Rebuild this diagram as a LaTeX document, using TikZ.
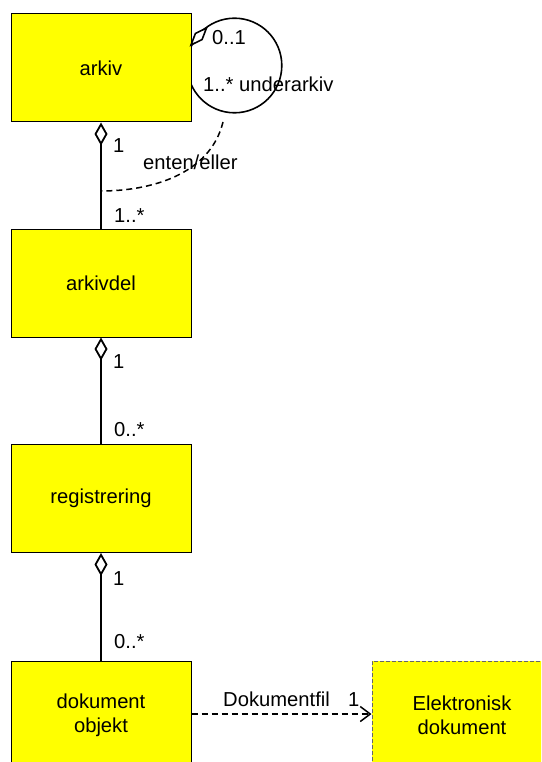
\documentclass[tikz,border=0pt]{standalone}
\usepackage{fontspec}
\setmainfont{Liberation Sans}
\usetikzlibrary{arrows.meta,calc}
\definecolor{boxyellow}{HTML}{FFFF00}
\begin{document}
\begin{tikzpicture}[x=1pt,y=-1pt,
  every node/.style={font=\fontsize{20.2}{24}\selectfont},
  classbox/.style={draw=black, line width=1pt, fill=boxyellow, minimum width=180pt, minimum height=108pt, inner sep=0pt, align=center},
  extbox/.style={classbox, draw=gray!80!black, dash pattern=on 4pt off 2pt},
  assoc/.style={line width=1.8pt},
  agg/.style={assoc, {Diamond[open,length=23pt,width=13pt]}-},
  lbl/.style={anchor=base west, inner sep=0pt},
  dep/.style={line width=1.5pt, dash pattern=on 6pt off 4pt, -{Straight Barb[length=10pt,width=15pt]}}
]
\useasboundingbox (0,0) rectangle (541,762);
\clip (0,0) rectangle (541,762);

% self-association loop
\node[circle, draw, line width=1.6pt, minimum size=94.6pt, inner sep=0pt] (loop) at (234.5,65.5) {};

% classes
\node[classbox] (arkiv) at (101,68) {arkiv};
\node[classbox] (arkivdel) at (101,283) {arkivdel};
\node[classbox] (registrering) at (101,498.5) {registrering};
\node[classbox] (dokobj) at (101,715) {dokument\\objekt};
\node[extbox] (elek) at (462,715) {Elektronisk\\dokument};

% self-aggregation diamond
\coordinate (selfA) at (191,45);
\coordinate (selfB) at (206.5,28);
\coordinate (selfC) at (202.1,39.5);
\coordinate (selfD) at (195.4,33.5);
\draw[line width=1.6pt, line join=miter, fill=white] (selfA) -- (selfC) -- (selfB) -- (selfD) -- cycle;

% aggregations
\draw[agg] (arkiv.south) -- (arkivdel.north);
\draw[agg] (arkivdel.south) -- (registrering.north);
\draw[agg] (registrering.south) -- (dokobj.north);

% either/or constraint
\coordinate (loopfoot) at (223,122);
\coordinate (either) at (101,191);
\draw[line width=1.5pt, dash pattern=on 6pt off 4pt] (loopfoot) .. controls (210,175) and (150,191) .. (either);

% dependency
\draw[dep] (dokobj.east |- 0,714) -- (elek.west |- 0,714);

% labels
\node[lbl] (m1) at (113,153) {1};
\node[lbl] (m2) at (114,222) {1..*};
\node[lbl] (m3) at (212,45) {0..1};
\node[lbl] (m4) at (203,92) {1..* underarkiv};
\node[lbl] (m5) at (143,170) {enten/eller};
\node[lbl] (m6) at (113,368) {1};
\node[lbl] (m7) at (114,436) {0..*};
\node[lbl] (m8) at (113,585) {1};
\node[lbl] (m9) at (114,648) {0..*};
\node[lbl] (m10) at (223,706) {Dokumentfil};
\node[lbl] (m11) at (348,706) {1};
\end{tikzpicture}
\end{document}
